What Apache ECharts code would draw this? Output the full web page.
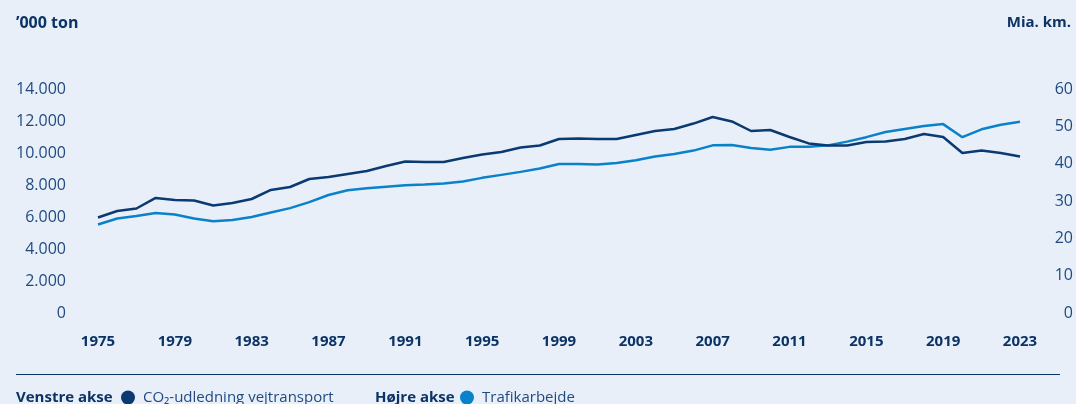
<!DOCTYPE html>
<html>
<head>
<meta charset="utf-8">
<script src="https://cdn.jsdelivr.net/npm/echarts@6/dist/echarts.min.js"></script>
<style>
  html, body { margin: 0; padding: 0; background: #e8eff9; }
  #chart { width: 1076px; height: 404px; }
</style>
</head>
<body>
<div id="chart"></div>
<script>
const YEARS = [];
for (let y = 1975; y <= 2023; y++) YEARS.push(String(y));

// CO2-udledning vejtransport, '000 ton (venstre akse)
const CO2 = [
  5970, 6375, 6530, 7190, 7060, 7030, 6720, 6875, 7125, 7690,
  7875, 8375, 8500, 8690, 8875, 9190, 9470, 9440, 9440, 9690,
  9900, 10060, 10340, 10470, 10875, 10900, 10875, 10875, 11125, 11375,
  11500, 11840, 12250, 11970, 11375, 11440, 11000, 10600, 10470, 10470,
  10690, 10720, 10875, 11190, 11000, 10000, 10160, 10000, 9780
];

// Trafikarbejde, mia. km (højre akse)
const TRAFIK = [
  23.7, 25.3, 26.0, 26.8, 26.4, 25.3, 24.6, 24.9, 25.7, 26.9,
  28.1, 29.7, 31.6, 32.9, 33.4, 33.8, 34.2, 34.4, 34.7, 35.2,
  36.2, 37.0, 37.8, 38.7, 39.9, 39.9, 39.8, 40.2, 40.9, 41.9,
  42.6, 43.5, 44.9, 45.0, 44.2, 43.7, 44.5, 44.5, 44.9, 45.9,
  47.1, 48.5, 49.3, 50.1, 50.6, 47.1, 49.2, 50.4, 51.2
];

const DARK = '#0b3a72';
const LIGHT = '#0a82c9';
const TEXT = '#1f4a80';
const BOLD = '#0b3366';
const FONT = '"Open Sans", Lato, sans-serif';

const chart = echarts.init(document.getElementById('chart'));

chart.setOption({
  animation: false,
  backgroundColor: '#e8eff9',
  textStyle: { fontFamily: FONT },
  grid: { left: 98, right: 56, top: 89, bottom: 91 },
  xAxis: {
    type: 'category',
    data: YEARS,
    boundaryGap: false,
    axisLine: { show: false },
    axisTick: { show: false },
    axisLabel: {
      interval: 3,
      margin: 21,
      color: BOLD,
      fontSize: 15,
      fontWeight: 'bold',
      fontFamily: FONT
    }
  },
  yAxis: [
    {
      type: 'value',
      min: 0,
      max: 14000,
      interval: 2000,
      splitLine: { show: false },
      axisLine: { show: false },
      axisTick: { show: false },
      axisLabel: {
        margin: 32,
        color: TEXT,
        fontSize: 16,
        fontFamily: FONT,
        formatter: v => v === 0 ? '0' : (v / 1000) + '.000'
      }
    },
    {
      type: 'value',
      min: 0,
      max: 60,
      interval: 10,
      splitLine: { show: false },
      axisLine: { show: false },
      axisTick: { show: false },
      axisLabel: {
        margin: 53,
        align: 'right',
        color: TEXT,
        fontSize: 16,
        fontFamily: FONT
      }
    }
  ],
  legend: [
    {
      left: 116,
      top: 385,
      icon: 'circle',
      itemWidth: 14,
      itemHeight: 14,
      data: ['CO₂-udledning vejtransport'],
      textStyle: { color: TEXT, fontSize: 15, fontFamily: FONT, padding: [0, 0, 0, 3] }
    },
    {
      left: 455,
      top: 385,
      icon: 'circle',
      itemWidth: 14,
      itemHeight: 14,
      data: ['Trafikarbejde'],
      textStyle: { color: TEXT, fontSize: 15, fontFamily: FONT, padding: [0, 0, 0, 3] }
    }
  ],
  graphic: [
    {
      type: 'text', x: 16, y: 23,
      style: { text: '’000 ton', fill: BOLD, font: 'bold 16px ' + FONT, verticalAlign: 'middle' }
    },
    {
      type: 'text', x: 1071, y: 23,
      style: { text: 'Mia. km.', fill: BOLD, font: 'bold 15px ' + FONT, align: 'right', verticalAlign: 'middle' }
    },
    {
      type: 'line',
      shape: { x1: 16, y1: 374.5, x2: 1060, y2: 374.5 },
      style: { stroke: BOLD, lineWidth: 1 }
    },
    {
      type: 'text', x: 16, y: 398,
      style: { text: 'Venstre akse', fill: BOLD, font: 'bold 15px ' + FONT, verticalAlign: 'middle' }
    },
    {
      type: 'text', x: 375, y: 398,
      style: { text: 'Højre akse', fill: BOLD, font: 'bold 15px ' + FONT, verticalAlign: 'middle' }
    }
  ],
  series: [
    {
      name: 'CO₂-udledning vejtransport',
      type: 'line',
      yAxisIndex: 0,
      data: CO2,
      symbol: 'none',
      itemStyle: { color: DARK },
      lineStyle: { color: DARK, width: 2.5 },
      z: 3
    },
    {
      name: 'Trafikarbejde',
      type: 'line',
      yAxisIndex: 1,
      data: TRAFIK,
      symbol: 'none',
      itemStyle: { color: LIGHT },
      lineStyle: { color: LIGHT, width: 2.5 },
      z: 2
    }
  ]
});
</script>
</body>
</html>
